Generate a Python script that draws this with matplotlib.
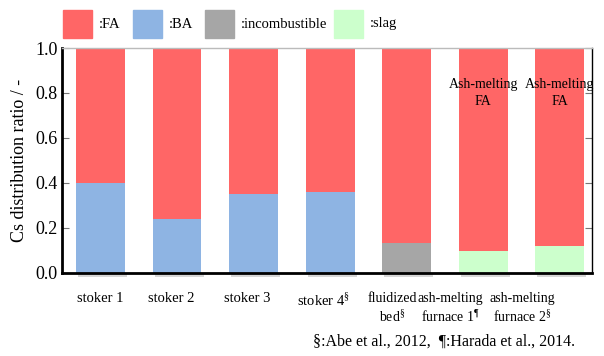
import matplotlib.pyplot as plt
from matplotlib.patches import Rectangle
import numpy as np

plt.rcParams['font.family'] = ['Liberation Serif', 'DejaVu Serif']
plt.rcParams['mathtext.fontset'] = 'custom'
plt.rcParams['mathtext.rm'] = 'Liberation Serif'

# Cs distribution per incinerator (fractions of total)
plants = ["stoker 1", "stoker 2", "stoker 3", "stoker 4", "fluidized bed",
          "ash-melting furnace 1", "ash-melting furnace 2"]
ba = [0.40, 0.24, 0.35, 0.36, 0.0, 0.0, 0.0]
incombustible = [0.0, 0.0, 0.0, 0.0, 0.13, 0.0, 0.0]
slag = [0.0, 0.0, 0.0, 0.0, 0.0, 0.095, 0.12]
fa = [1 - b - i - s for b, i, s in zip(ba, incombustible, slag)]

xlabels = ["stoker 1", "stoker 2", "stoker 3", "stoker 4$^{§}$",
           "fluidized\nbed$^{§}$", "ash-melting\nfurnace 1$^{¶}$",
           "ash-melting\nfurnace 2$^{§}$"]
xlabel_pos = [0.0, 0.93, 1.92, 2.92, 3.81, 4.57, 5.51]

c_fa = "#FF6666"
c_ba = "#8EB4E3"
c_inc = "#A6A6A6"
c_slag = "#CCFFCC"

fig = plt.figure(figsize=(6.04, 3.56), dpi=100)
ax = fig.add_axes([0.1026, 0.234, 0.877, 0.631])

x = np.arange(len(plants))
w = 0.64
lower = np.array(ba) + np.array(incombustible) + np.array(slag)

# soft shadow under each bar
for xi in x:
    ax.add_patch(Rectangle((xi - w / 2 + 0.03, -0.02), w, 0.02, color="#BBBBBB",
                           alpha=0.6, clip_on=False, lw=0, zorder=1))

ax.bar(x, ba, w, color=c_ba, zorder=2)
ax.bar(x, incombustible, w, bottom=ba, color=c_inc, zorder=2)
ax.bar(x, slag, w, bottom=np.array(ba) + np.array(incombustible), color=c_slag, zorder=2)
ax.bar(x, fa, w, bottom=lower, color=c_fa, zorder=2)

ax.set_xlim(-0.503, 6.418)
ax.set_ylim(0, 1.0)
ax.set_yticks([0, 0.2, 0.4, 0.6, 0.8, 1.0])
ax.set_yticklabels(["0.0", "0.2", "0.4", "0.6", "0.8", "1.0"], fontsize=13)
ax.set_xticks([])
ax.tick_params(axis="y", direction="in", length=5, color="#777777", right=True,
               pad=3)
ax.set_ylabel("Cs distribution ratio / -", fontsize=13, labelpad=5)

ax.spines["left"].set_linewidth(2)
ax.spines["bottom"].set_linewidth(2)
ax.spines["top"].set_color("#BBBBBB")
ax.spines["top"].set_linewidth(1)
ax.spines["right"].set_linewidth(1)

for i, (pos, lab) in enumerate(zip(xlabel_pos, xlabels)):
    ax.text(pos, -0.085, lab, ha="center", va="top",
            fontsize=10.5 if i < 4 else 10,
            linespacing=1.25, transform=ax.get_xaxis_transform())

ax.text(6.2, -0.27, "§:Abe et al., 2012,  ¶:Harada et al., 2014.", ha="right",
        va="top", fontsize=11.5, transform=ax.get_xaxis_transform())

for xi in [5, 6]:
    ax.text(xi, 0.80, "Ash-melting\nFA", ha="center", va="center", fontsize=10,
            linespacing=1.35, zorder=3)

# legend row along the top
legend_items = [(c_fa, ":FA", 62.7), (c_ba, ":BA", 132.7),
                (c_inc, ":incombustible", 205), (c_slag, ":slag", 334)]
for col, lab, px in legend_items:
    fig.patches.append(Rectangle((px / 604, 1 - 38 / 356), 29 / 604, 28 / 356,
                                 color=col, transform=fig.transFigure))
    fig.text((px + 36) / 604, 1 - 24 / 356, lab, ha="left", va="center",
             fontsize=10.5)

fig.savefig("out.png", dpi=100)
